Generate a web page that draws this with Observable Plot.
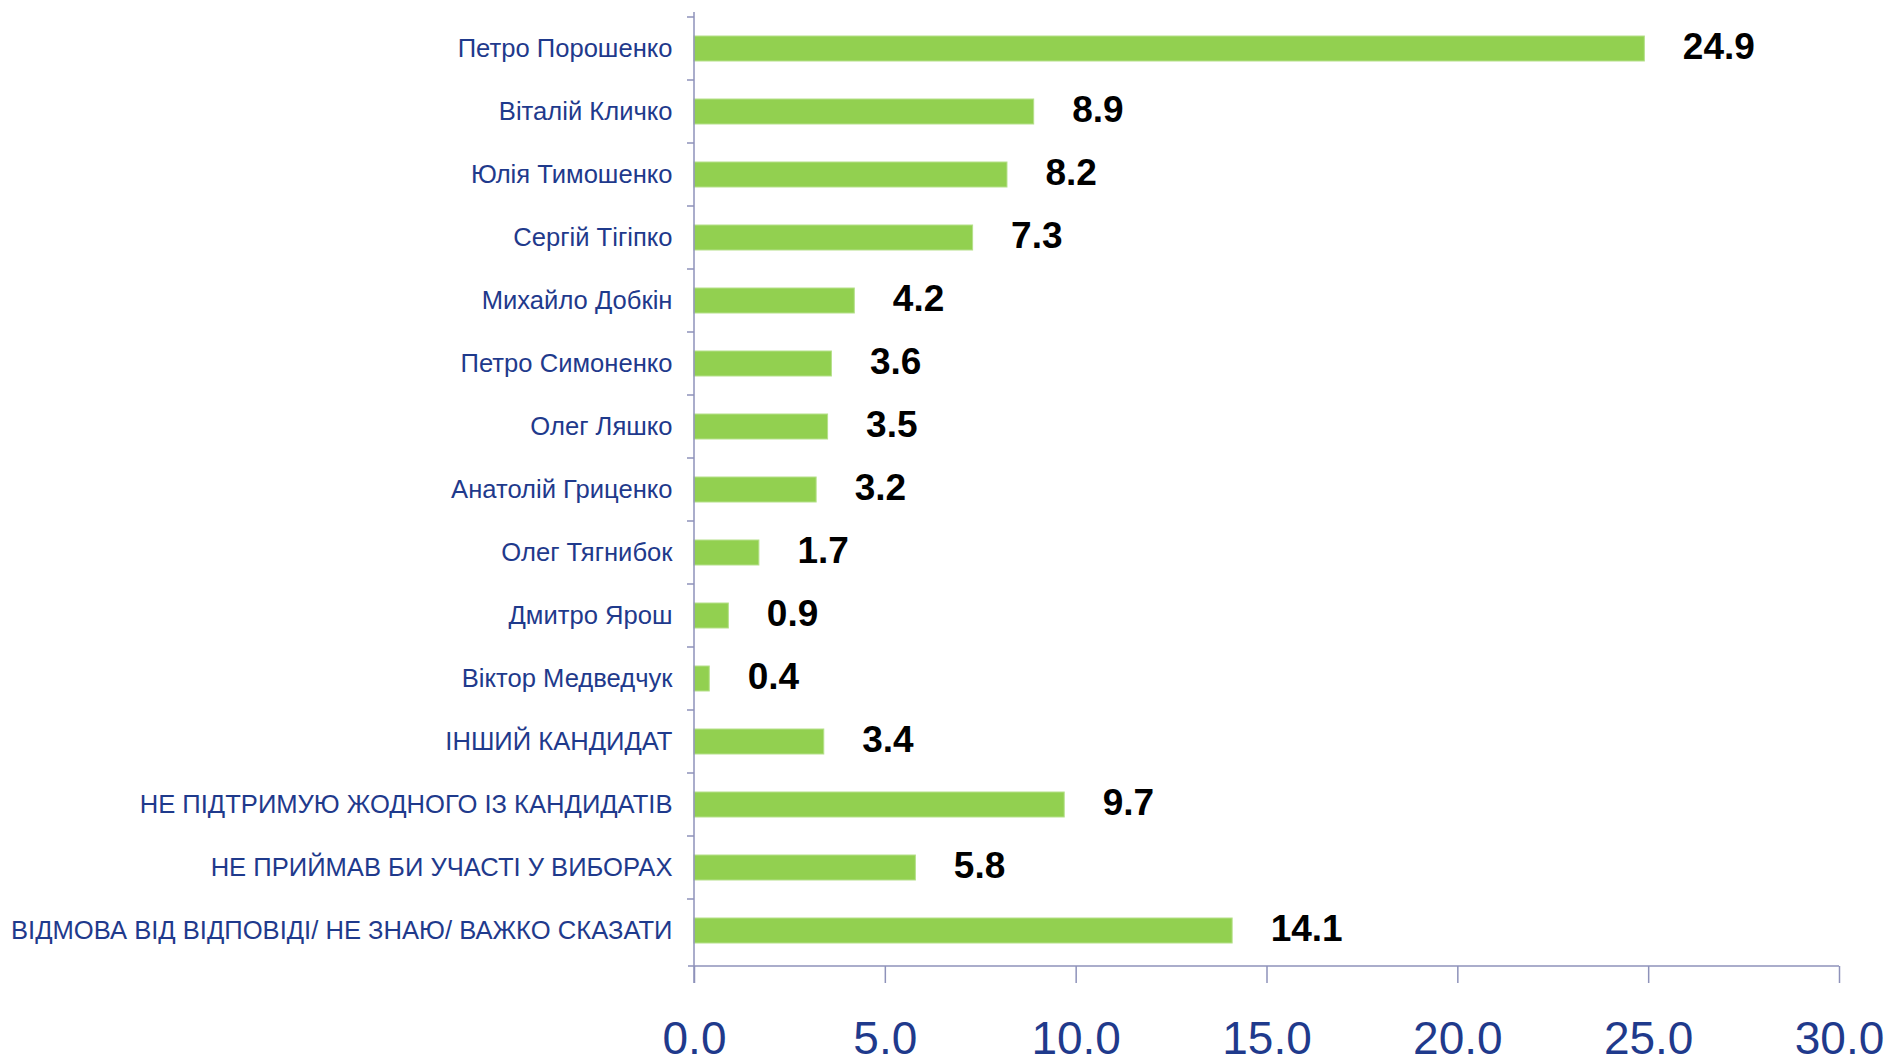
<!DOCTYPE html>
<html><head><meta charset="utf-8">
<script src="https://cdn.jsdelivr.net/npm/d3@7"></script>
<script src="https://cdn.jsdelivr.net/npm/@observablehq/plot@0.6"></script>
<style>html,body{margin:0;padding:0;background:#fff;overflow:hidden}</style>
</head><body><div id="chart"></div>
<script>
const categories = [
  "Петро Порошенко",
  "Віталій Кличко",
  "Юлія Тимошенко",
  "Сергій Тігіпко",
  "Михайло Добкін",
  "Петро Симоненко",
  "Олег Ляшко",
  "Анатолій Гриценко",
  "Олег Тягнибок",
  "Дмитро Ярош",
  "Віктор Медведчук",
  "ІНШИЙ КАНДИДАТ",
  "НЕ ПІДТРИМУЮ ЖОДНОГО ІЗ КАНДИДАТІВ",
  "НЕ ПРИЙМАВ БИ УЧАСТІ У ВИБОРАХ",
  "ВІДМОВА ВІД ВІДПОВІДІ/ НЕ ЗНАЮ/ ВАЖКО СКАЗАТИ"
];
const values = [24.9, 8.9, 8.2, 7.3, 4.2, 3.6, 3.5, 3.2, 1.7, 0.9, 0.4, 3.4, 9.7, 5.8, 14.1];
const xTicks = [0, 5, 10, 15, 20, 25, 30];

const data = categories.map((name, i) => ({name, value: values[i]}));

const W = 1893, H = 1061;
const axisColor = "#8E92BA";
const labelBlue = "#1F3A8C";
const sans = "'Liberation Sans', Arial, sans-serif";

function axisFrame(index, scales, vals, dims) {
  const {x, y} = scales;
  const g = d3.create("svg:g").attr("stroke", axisColor).attr("stroke-width", 1.5).attr("fill", "none");
  const x0 = x(xTicks[0]), x1 = x(xTicks[xTicks.length - 1]);
  const top = dims.marginTop, bottom = dims.height - dims.marginBottom;
  g.append("line").attr("x1", x0).attr("x2", x0).attr("y1", top).attr("y2", bottom + 17);
  g.append("line").attr("x1", x0 - 6).attr("x2", x1).attr("y1", bottom).attr("y2", bottom);
  for (const c of categories) {
    const yb = y(c);
    g.append("line").attr("x1", x0 - 7).attr("x2", x0).attr("y1", yb).attr("y2", yb);
  }
  return g.node();
}

const chart = Plot.plot({
  width: W,
  height: H,
  marginLeft: 694,
  marginRight: 54,
  marginTop: 12,
  marginBottom: 95,
  style: {background: "#fff", overflow: "visible", fontFamily: sans},
  x: {domain: [0, 30]},
  y: {domain: categories, padding: 0},
  marks: [
    Plot.barX(data, {x: "value", y: "name", fill: "#92D050", stroke: "#B5E08A", strokeWidth: 1, insetTop: 19, insetBottom: 19}),
    Plot.text(data, {x: "value", y: "name", text: d => d.value.toFixed(1), textAnchor: "start", dx: 38, dy: -2, fontSize: 37, fontWeight: "bold", fill: "#000", fontFamily: sans}),
    Plot.axisY({tickSize: 0, tickPadding: 22, fontSize: 25.6, fill: labelBlue, fontFamily: sans, label: null}),
    Plot.axisX({ticks: xTicks, tickFormat: d3.format(".1f"), tickSize: 17, tickPadding: 38, fontSize: 46, stroke: axisColor, strokeWidth: 1.5, fill: labelBlue, fontFamily: sans, label: null}),
    axisFrame
  ]
});
document.getElementById("chart").appendChild(chart);
</script>
</body></html>
